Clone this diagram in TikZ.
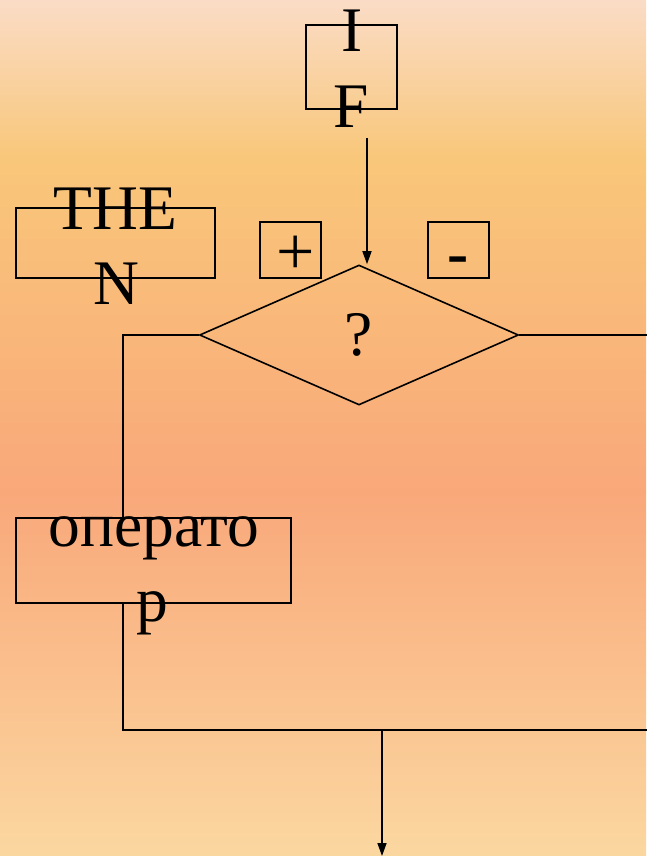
\documentclass[tikz,border=0pt]{standalone}
\usepackage{fontspec}
\setmainfont{Liberation Serif}
\usetikzlibrary{shapes.geometric,arrows.meta}
\definecolor{bgA}{RGB}{250,220,198}
\definecolor{bgB}{RGB}{249,199,122}
\definecolor{bgC}{RGB}{249,168,122}
\definecolor{bgD}{RGB}{251,215,160}
\begin{document}
\begin{tikzpicture}[x=1pt,y=-1pt,
  box/.style={draw=black,line width=1.8pt,inner sep=0pt},
  big/.style={font=\fontsize{63.5}{76}\selectfont},
  txt/.style={big,anchor=base,inner sep=0pt},
  conn/.style={draw=black,line width=1.5pt},
  arr/.style={conn,-{Triangle[width=9pt,length=13pt]}}]
\useasboundingbox (0,0) rectangle (646,856);
\shade[top color=bgA,bottom color=bgB] (0,0) rectangle (646,158.6);
\shade[top color=bgB,bottom color=bgC] (0,158) rectangle (646,492.6);
\shade[top color=bgC,bottom color=bgD] (0,492) rectangle (646,856);
% IF
\node[box,minimum width=91pt,minimum height=84pt] (ifbox) at (351.5,67) {};
\node[txt] (ifI) at (352,52) {I};
\node[txt] (ifF) at (351,128) {F};
% THEN
\node[box,minimum width=199pt,minimum height=70pt] (thenbox) at (115.5,243) {};
\node[txt] (thenA) at (115.5,229) {THE};
\node[txt] (thenB) at (116,304) {N};
% + and -
\node[box,minimum width=61pt,minimum height=56pt] (plusbox) at (290.5,250) {};
\node[inner sep=0pt,font=\fontsize{68}{80}\selectfont] (plus) at (296,255) {+};
\node[box,minimum width=61pt,minimum height=56pt] (minusbox) at (458.5,250) {};
\node[txt,font=\fontsize{63.5}{76}\selectfont\bfseries] (minus) at (458.5,274) {-};
% decision
\node[draw=black,diamond,line width=1.6pt,minimum width=319pt,minimum height=140pt,inner sep=0pt,big] (dia) at (359,335) {?};
% operator
\node[box,minimum width=275pt,minimum height=85pt] (opbox) at (153.5,560.5) {};
\node[txt] (opA) at (154,546) {операто};
\node[txt] (opB) at (152.5,621) {р};
% connectors
\coordinate (inTop) at (367,138);
\draw[arr] (inTop) -- (dia.north -| inTop);
\coordinate (L) at (123,335);
\draw[conn] (dia.west) -- (L) -- (L |- opbox.north);
\coordinate (B) at (123,730);
\coordinate (Rb) at (647,730);
\draw[conn] (L |- opbox.south) -- (B) -- (Rb);
\coordinate (Ra) at (647,335);
\draw[conn] (dia.east) -- (Ra);
\coordinate (M) at (382,730);
\coordinate (End) at (382,856);
\draw[arr] (M) -- (End);
\end{tikzpicture}
\end{document}
